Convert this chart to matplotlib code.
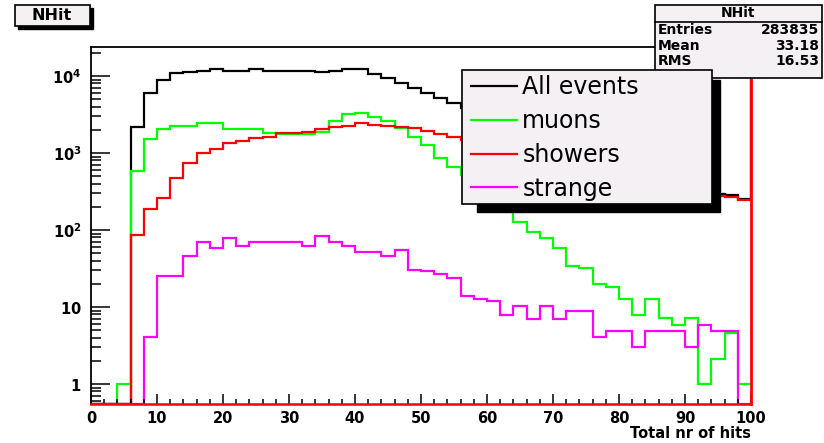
import numpy as np
import matplotlib.pyplot as plt
from matplotlib.patches import Rectangle
from matplotlib.lines import Line2D
from matplotlib.ticker import MultipleLocator, LogLocator, NullFormatter

plt.rcParams['font.family'] = ['DejaVu Sans']
plt.rcParams['mathtext.fontset'] = 'dejavusans'

# bin edges of NHit (2 hits per bin), last bin is the overflow above 100
bin_edges = np.arange(0, 104, 2)

all_events = [0, 0, 0, 2200, 6000, 8900, 11000, 11300, 11600, 12400,
              11600, 11600, 12300, 11600, 11500, 11500, 11500, 11400, 11500, 12300,
              12300, 10600, 9400, 8100, 7000, 6000, 5200, 4450, 3800, 3200,
              2700, 2200, 1800, 1500, 1250, 1050, 880, 740, 630, 540,
              470, 420, 380, 350, 330, 310, 300, 290, 285, 255,
              40000]
muons = [0, 0, 1, 590, 1520, 2050, 2240, 2240, 2430, 2430,
         2040, 2040, 2040, 1820, 1750, 1750, 1750, 1900, 2600, 3180,
         3280, 2960, 2600, 2090, 1620, 1270, 860, 660, 520, 400,
         280, 200, 127, 94, 79, 58, 34, 32, 20, 18,
         12.7, 7.9, 12.7, 7.1, 5.8, 7.1, 1, 2.1, 4.6, 1,
         1]
showers = [0, 0, 0, 86, 190, 262, 470, 740, 990, 1120,
           1330, 1430, 1580, 1620, 1800, 1800, 1890, 2040, 2150, 2250,
           2420, 2300, 2250, 2200, 2090, 1950, 1770, 1620, 1480, 1340,
           1200, 1080, 960, 860, 770, 690, 620, 560, 500, 450,
           410, 380, 350, 330, 310, 295, 285, 275, 267, 245,
           40000]
strange = [0, 0, 0, 0, 4.1, 25, 25, 46, 69, 58,
           78, 62, 69, 69, 69, 69, 62, 83, 69, 62,
           52, 52, 46, 55, 30, 29, 27, 24, 14, 12.7,
           12, 7.9, 10.4, 7, 10.4, 7, 8.9, 8.9, 4.1, 4.9,
           4.9, 3.05, 4.9, 4.9, 4.9, 3.05, 5.8, 4.9, 4.9, 0,
           0]

series = [("All events", all_events, "#000000"),
          ("muons", muons, "#00ff00"),
          ("showers", showers, "#ff0000"),
          ("strange", strange, "#ff00ff")]

y_ticks = [1, 10, 100, 1000, 10000]
y_ticklabels = [r'$\mathbf{1}$', r'$\mathbf{10}$', r'$\mathbf{10^{2}}$',
                r'$\mathbf{10^{3}}$', r'$\mathbf{10^{4}}$']
x_ticks = [0, 10, 20, 30, 40, 50, 60, 70, 80, 90, 100]

stats_rows = [("Entries", "283835"), ("Mean", "33.18"), ("RMS", "16.53")]

W, H = 824, 443
ymin, ymax = 0.55, 23800


def fx(px):
    return px / W


def fy(py):
    return 1 - py / H


fig = plt.figure(figsize=(8.24, 4.43), dpi=100)
ax = fig.add_axes([fx(91), fy(404), (751 - 91) / W, (404 - 47) / H])

for name, vals, col in series:
    v = np.array(vals, dtype=float)
    v = np.where(v > 0, v, ymin)
    ax.stairs(v, bin_edges, color=col, lw=1.6, baseline=None)

ax.set_yscale('log')
ax.set_ylim(ymin, ymax)
ax.set_xlim(0, 100)

ax.set_yticks(y_ticks, y_ticklabels)
ax.yaxis.set_minor_locator(LogLocator(base=10, subs=np.arange(2, 10)))
ax.yaxis.set_minor_formatter(NullFormatter())
ax.set_xticks(x_ticks, [str(t) for t in x_ticks])
ax.xaxis.set_minor_locator(MultipleLocator(2))

ax.tick_params(axis='y', which='major', direction='in', length=14, width=1.1,
               pad=7, labelsize=10.5)
ax.tick_params(axis='y', which='minor', direction='in', length=7, width=1.1)
ax.tick_params(axis='x', which='major', direction='in', length=7, width=1.1,
               pad=5, labelsize=10.5)
ax.tick_params(axis='x', which='minor', direction='in', length=3.5, width=1.1)
for lab in ax.get_xticklabels():
    lab.set_fontweight('bold')

for s in ['left', 'top']:
    ax.spines[s].set_linewidth(1.3)
ax.spines['bottom'].set_color('#ff0000')
ax.spines['bottom'].set_linewidth(1.8)
ax.spines['right'].set_color('#ff0000')
ax.spines['right'].set_linewidth(2)

ax.set_xlabel('Total nr of hits', loc='right', fontsize=10.5,
              fontweight='bold', labelpad=0)

# title box
fig.patches.append(Rectangle((fx(18), fy(29)), (93 - 18) / W, (29 - 8) / H,
                             transform=fig.transFigure, facecolor='black',
                             edgecolor='black', zorder=1))
fig.patches.append(Rectangle((fx(15), fy(26)), (90 - 15) / W, (26 - 5) / H,
                             transform=fig.transFigure, facecolor='#f4f0f4',
                             edgecolor='black', lw=1.2, zorder=1.1))
fig.text(fx(52), fy(15.5), 'NHit', ha='center', va='center', fontsize=11.5,
         fontweight='bold', zorder=1.2)

# stats box
fig.patches.append(Rectangle((fx(655), fy(78)), (822 - 655) / W, (78 - 5) / H,
                             transform=fig.transFigure, facecolor='#f4f0f4',
                             edgecolor='black', lw=1.2, zorder=1))
fig.lines.append(Line2D([fx(655), fx(822)], [fy(22), fy(22)],
                        transform=fig.transFigure, color='black', lw=1.2,
                        zorder=1.1))
fig.text(fx(738), fy(13), 'NHit', ha='center', va='center', fontsize=10,
         fontweight='bold', zorder=1.2)
for i, (lab, val) in enumerate(stats_rows):
    yy = fy(30 + 15.5 * i)
    fig.text(fx(658), yy, lab, ha='left', va='center', fontsize=10,
             fontweight='bold', zorder=1.2)
    fig.text(fx(819), yy, val, ha='right', va='center', fontsize=10,
             fontweight='bold', zorder=1.2)

# legend box with shadow
fig.patches.append(Rectangle((fx(477), fy(212)), (720 - 477) / W, (212 - 80) / H,
                             transform=fig.transFigure, facecolor='black',
                             edgecolor='black', zorder=2))
fig.patches.append(Rectangle((fx(462), fy(204)), (712 - 462) / W, (204 - 70) / H,
                             transform=fig.transFigure, facecolor='#f4f0f4',
                             edgecolor='black', lw=1.2, zorder=2.1))
handles = [Line2D([], [], color=col, lw=1.6) for _, _, col in series]
fig.legend(handles, [n for n, _, _ in series], loc='upper left',
           bbox_to_anchor=(fx(471), fy(75)), frameon=False, fontsize=17,
           handlelength=1.95, handletextpad=0.22, labelspacing=0.42,
           borderpad=0, borderaxespad=0)

fig.savefig('out.png', dpi=100, facecolor='white')
